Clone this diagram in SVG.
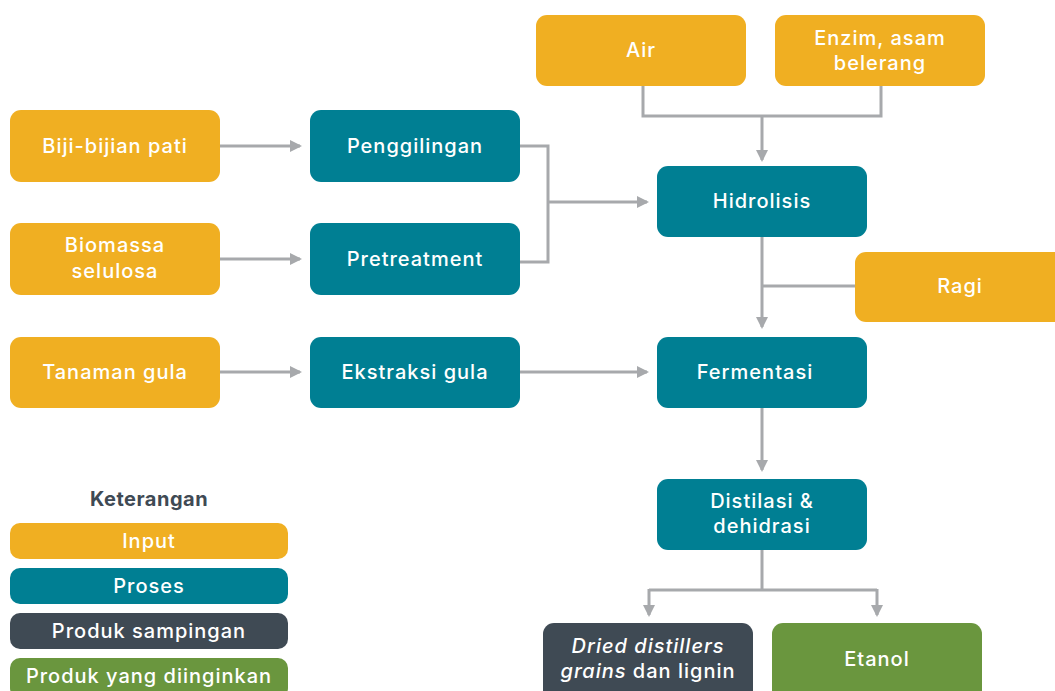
<svg xmlns="http://www.w3.org/2000/svg" width="1055" height="691" viewBox="0 0 1055 691">
<style>
.in{fill:#f0af22}.pr{fill:#007f93}.by{fill:#3f4a54}.gd{fill:#6a963e}
text{font-family:Inter,"Open Sans","Liberation Sans",sans-serif;font-size:20px;font-weight:500;fill:#fff;text-anchor:middle;letter-spacing:1px}
.c{fill:none;stroke:#a7a9ac;stroke-width:3}
</style>
<defs>
<marker id="ar" markerWidth="12" markerHeight="12" viewBox="0 0 12 12" refX="10" refY="6" orient="auto" markerUnits="userSpaceOnUse">
<path d="M0,0 L12,6 L0,12 Z" fill="#a7a9ac"/>
</marker>
</defs>
<g id="connectors">
<path class="c" d="M220,146 H300" marker-end="url(#ar)"/>
<path class="c" d="M220,259 H300" marker-end="url(#ar)"/>
<path class="c" d="M220,372 H300" marker-end="url(#ar)"/>
<path class="c" d="M520,146 H548 V262 H520"/>
<path class="c" d="M548,202 H647" marker-end="url(#ar)"/>
<path class="c" d="M520,372 H647" marker-end="url(#ar)"/>
<path class="c" d="M643,86 V116 H881 V86"/>
<path class="c" d="M762,116 V160" marker-end="url(#ar)"/>
<path class="c" d="M762,237 V327" marker-end="url(#ar)"/>
<path class="c" d="M855,286 H762"/>
<path class="c" d="M762,408 V470" marker-end="url(#ar)"/>
<path class="c" d="M762,550 V590"/>
<path class="c" d="M649,590 H877"/>
<path class="c" d="M649,589 V615" marker-end="url(#ar)"/>
<path class="c" d="M877,589 V615" marker-end="url(#ar)"/>
</g>
<g id="air"><rect class="in" x="536" y="15" width="210" height="71" rx="11"/><text x="641" y="57">Air</text></g>
<g id="enzim"><rect class="in" x="775" y="15" width="210" height="71" rx="11"/><text x="880" y="45">Enzim, asam</text><text x="880" y="70">belerang</text></g>
<g id="biji"><rect class="in" x="10" y="110" width="210" height="72" rx="11"/><text x="115" y="153">Biji-bijian pati</text></g>
<g id="biomassa"><rect class="in" x="10" y="223" width="210" height="72" rx="11"/><text x="115" y="252">Biomassa</text><text x="115" y="278">selulosa</text></g>
<g id="tanaman"><rect class="in" x="10" y="337" width="210" height="71" rx="11"/><text x="115" y="379">Tanaman gula</text></g>
<g id="penggilingan"><rect class="pr" x="310" y="110" width="210" height="72" rx="11"/><text x="415" y="153">Penggilingan</text></g>
<g id="pretreatment"><rect class="pr" x="310" y="223" width="210" height="72" rx="11"/><text x="415" y="266">Pretreatment</text></g>
<g id="ekstraksi"><rect class="pr" x="310" y="337" width="210" height="71" rx="11"/><text x="415" y="379">Ekstraksi gula</text></g>
<g id="hidrolisis"><rect class="pr" x="657" y="166" width="210" height="71" rx="11"/><text x="762" y="208">Hidrolisis</text></g>
<g id="ragi"><rect class="in" x="855" y="252" width="215" height="70" rx="11"/><text x="960" y="293">Ragi</text></g>
<g id="fermentasi"><rect class="pr" x="657" y="337" width="210" height="71" rx="11"/><text x="755" y="379">Fermentasi</text></g>
<g id="distilasi"><rect class="pr" x="657" y="479" width="210" height="71" rx="11"/><text x="762" y="508">Distilasi &amp;</text><text x="762" y="533">dehidrasi</text></g>
<g id="dried"><rect class="by" x="543" y="623" width="210" height="80" rx="11"/><text x="648" y="653"><tspan font-style="italic">Dried distillers</tspan></text><text x="648" y="678"><tspan font-style="italic">grains</tspan> dan lignin</text></g>
<g id="etanol"><rect class="gd" x="772" y="623" width="210" height="80" rx="11"/><text x="877" y="666">Etanol</text></g>
<g id="legend">
<text x="149" y="506" style="fill:#3f4a54;font-weight:700;font-size:20px;letter-spacing:0.5px">Keterangan</text>
<rect class="in" x="10" y="523" width="278" height="36" rx="10"/><text x="149" y="548">Input</text>
<rect class="pr" x="10" y="568" width="278" height="36" rx="10"/><text x="149" y="593">Proses</text>
<rect class="by" x="10" y="613" width="278" height="36" rx="10"/><text x="149" y="638">Produk sampingan</text>
<rect class="gd" x="10" y="658" width="278" height="40" rx="10"/><text x="149" y="683">Produk yang diinginkan</text>
</g>
</svg>
